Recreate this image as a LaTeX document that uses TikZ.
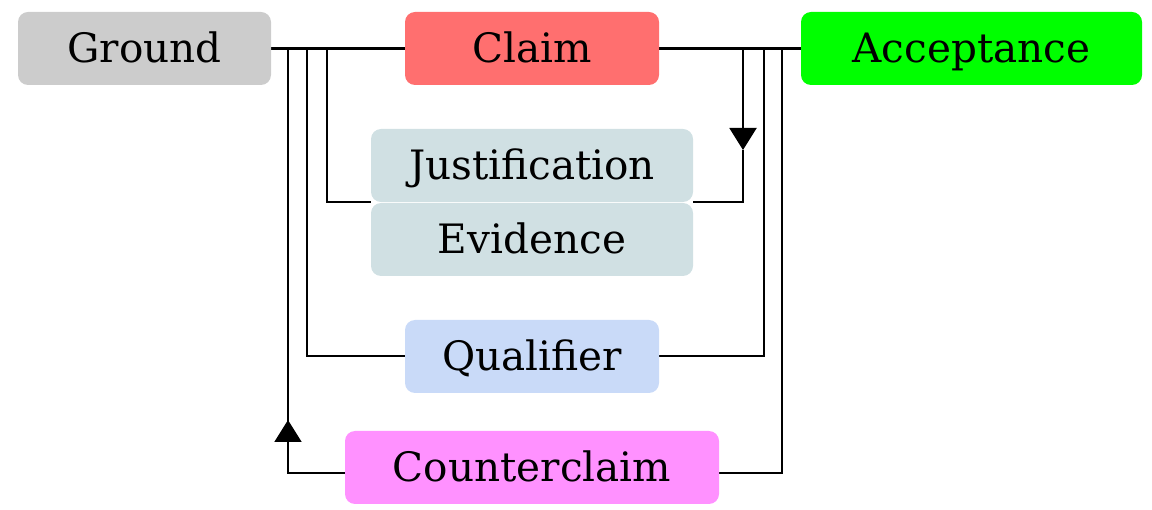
\documentclass[tikz,border=0pt]{standalone}
\usepackage{fontspec}
\setmainfont{DejaVu Serif}
\usetikzlibrary{arrows.meta,backgrounds}
\definecolor{cground}{HTML}{CCCCCC}
\definecolor{cclaim}{HTML}{FF6F6F}
\definecolor{caccept}{HTML}{00FF00}
\definecolor{cjust}{HTML}{D0E0E3}
\definecolor{cqual}{HTML}{C9DAF8}
\definecolor{ccounter}{HTML}{FF91FF}
\tikzset{
  box/.style={rounded corners=10pt, minimum height=73pt, inner sep=0pt,
    text height=29pt, text depth=0pt,
    font=\fontsize{40.5}{46}\selectfont, text=black},
  conn/.style={line width=2pt, black},
  mainconn/.style={line width=3pt, black},
  tri/.style={-{Triangle[width=27pt,length=22pt]}}
}
\begin{document}
\begin{tikzpicture}[x=1pt,y=-1pt]
\useasboundingbox (0,0) rectangle (1152,510);
\node[box, fill=cground, minimum width=253pt] (Ground) at (144.5,48.5) {Ground};
\node[box, fill=cclaim, minimum width=254pt] (Claim) at (532,48.5) {Claim};
\node[box, fill=caccept, minimum width=341pt] (Acceptance) at (971.5,48.5) {Acceptance};
\node[box, fill=cjust, minimum width=322pt] (Justification) at (532,165.5) {Justification};
\node[box, fill=cjust, minimum width=322pt] (Evidence) at (532,239.5) {Evidence};
\node[box, fill=cqual, minimum width=254pt] (Qualifier) at (532,356.5) {Qualifier};
\node[box, fill=ccounter, minimum width=374pt] (Counterclaim) at (532,467.5) {Counterclaim};
% junction coordinates on main lines
\coordinate (gl1) at (288,48.5);
\coordinate (gl2) at (307,48.5);
\coordinate (gl3) at (327,48.5);
\coordinate (ar1) at (743,48.5);
\coordinate (ar2) at (763.5,48.5);
\coordinate (ar3) at (781.5,48.5);
\coordinate (jarrow) at (743,150);
\coordinate (carrow) at (288,420);
\coordinate (cleft) at ([yshift=-5.5pt]Counterclaim.west);
\coordinate (cright) at ([yshift=-5.5pt]Counterclaim.east);
\begin{scope}[on background layer]
\draw[mainconn] (Ground.east) -- (Claim.west);
\draw[mainconn] (Claim.east) -- (Acceptance.west);
% Justification
\draw[conn] (gl3) |- (Justification.south west);
\draw[conn, tri] (ar1) -- (jarrow);
\draw[conn] (jarrow) |- (Justification.south east);
% Qualifier
\draw[conn] (gl2) |- (Qualifier.west);
\draw[conn] (ar2) |- (Qualifier.east);
% Counterclaim
\draw[conn] (cleft) -| (carrow);
\draw[conn, tri] (cleft -| carrow) -- (carrow);
\draw[conn] (carrow) -- (gl1);
\draw[conn] (ar3) |- (cright);
\end{scope}
\end{tikzpicture}
\end{document}
